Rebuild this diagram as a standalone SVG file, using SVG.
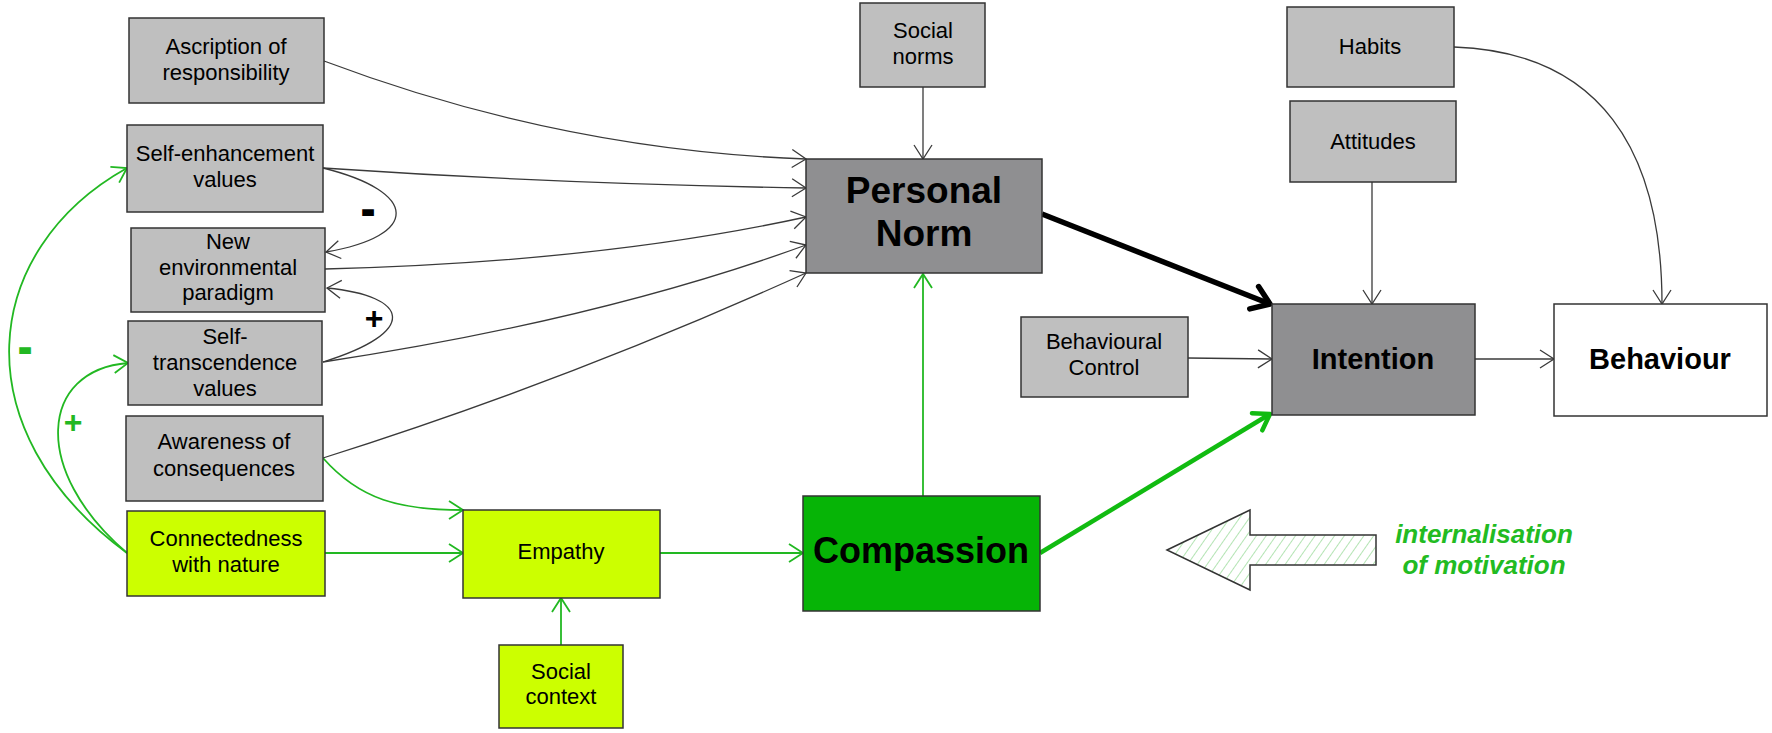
<svg xmlns="http://www.w3.org/2000/svg" width="1772" height="733" viewBox="0 0 1772 733">
<style>
.box{stroke:#333;stroke-width:1.5}
.lg{fill:#bfbfbf}
.dg{fill:#8f8f91}
.lime{fill:#ccff00}
.comp{fill:#06b406}
.wh{fill:#ffffff}
text{font-family:"Liberation Sans",Arial,sans-serif;fill:#000;text-anchor:middle}
.t{font-size:22px}
.b{font-weight:bold}
.ck{fill:none;stroke:#3a3a3a;stroke-width:1.3}
.cg{fill:none;stroke:#22b822;stroke-width:1.8}
.sign{font-weight:bold;font-size:32px}
.dash{font-weight:bold;font-size:38px;stroke-width:2}
.gtext{fill:#22bb22;font-weight:bold;font-style:italic;font-size:26px}
</style>
<defs>
<marker id="ak" markerUnits="userSpaceOnUse" markerWidth="30" markerHeight="30" viewBox="-20 -15 25 30" refX="0" refY="0" orient="auto"><path d="M-14,-9 L0,0 L-14,9" fill="none" stroke="#3a3a3a" stroke-width="1.3"/></marker>
<marker id="ag" markerUnits="userSpaceOnUse" markerWidth="30" markerHeight="30" viewBox="-20 -15 25 30" refX="0" refY="0" orient="auto"><path d="M-14,-9 L0,0 L-14,9" fill="none" stroke="#22b822" stroke-width="1.8"/></marker>
<marker id="akb" markerUnits="userSpaceOnUse" markerWidth="40" markerHeight="40" viewBox="-25 -20 30 40" refX="0" refY="0" orient="auto"><path d="M-17,-12 L0,0 L-17,12" fill="none" stroke="#000" stroke-width="5.5" stroke-linecap="round" stroke-linejoin="round"/></marker>
<marker id="agb" markerUnits="userSpaceOnUse" markerWidth="40" markerHeight="40" viewBox="-25 -20 30 40" refX="0" refY="0" orient="auto"><path d="M-15,-10 L0,0 L-15,10" fill="none" stroke="#11bb11" stroke-width="4.5" stroke-linecap="round" stroke-linejoin="round"/></marker>
<pattern id="hatch" patternUnits="userSpaceOnUse" width="8" height="8" patternTransform="rotate(35)"><rect width="8" height="8" fill="#fff"/><line x1="0" y1="0" x2="0" y2="8" stroke="#9bdc9b" stroke-width="1.5"/></pattern>
</defs>

<g id="connectors">
<path class="ck" d="M324,61 Q560,150 806,159" marker-end="url(#ak)"/>
<path class="ck" d="M323,168 Q560,184 806,188" marker-end="url(#ak)"/>
<path class="ck" d="M323,168 C420,192 420,236 326,252" marker-end="url(#ak)"/>
<path class="ck" d="M325,269 Q600,262 806,217" marker-end="url(#ak)"/>
<path class="ck" d="M323,362 C420,332 410,296 327,288" marker-end="url(#ak)"/>
<path class="ck" d="M323,362 Q600,320 806,245" marker-end="url(#ak)"/>
<path class="ck" d="M323,458 Q570,380 806,273" marker-end="url(#ak)"/>
<path class="ck" d="M923,87 L923,159" marker-end="url(#ak)"/>
<path class="ck" d="M1372,182 L1372,304" marker-end="url(#ak)"/>
<path class="ck" d="M1454,47 C1600,52 1662,150 1662,304" marker-end="url(#ak)"/>
<path class="ck" d="M1188,358 L1272,359" marker-end="url(#ak)"/>
<path class="ck" d="M1475,359 L1554,359" marker-end="url(#ak)"/>
<path d="M1042,214 L1270,304" fill="none" stroke="#000" stroke-width="5.5" marker-end="url(#akb)"/>
<path class="cg" d="M923,496 L923,274" marker-end="url(#ag)"/>
<path d="M1040,553 L1270,414" fill="none" stroke="#11bb11" stroke-width="4.5" marker-end="url(#agb)"/>
<path class="cg" d="M660,553 L803,553" marker-end="url(#ag)"/>
<path class="cg" d="M325,553 L463,553" marker-end="url(#ag)"/>
<path class="cg" d="M323,458 C360,500 400,510 463,510" marker-end="url(#ag)"/>
<path class="cg" d="M561,645 L561,598" marker-end="url(#ag)"/>
<path class="cg" d="M127,553 C-40,430 -20,250 127,168" marker-end="url(#ag)"/>
<path class="cg" d="M127,553 C30,470 40,370 128,363" marker-end="url(#ag)"/>
</g>

<g id="signs">
<text class="dash" x="368" y="223" style="stroke:#000">-</text>
<text class="sign" x="374" y="329">+</text>
<text class="dash" x="25" y="361" style="fill:#22b822;stroke:#22b822">-</text>
<text class="sign" x="73" y="433" style="fill:#22b822">+</text>
</g>

<g id="ascription"><rect class="box lg" x="129" y="18" width="195" height="85"/><text class="t" x="226" y="54">Ascription of</text><text class="t" x="226" y="80">responsibility</text></g>
<g id="self-enhancement"><rect class="box lg" x="127" y="125" width="196" height="87"/><text class="t" x="225" y="161">Self-enhancement</text><text class="t" x="225" y="187">values</text></g>
<g id="nep"><rect class="box lg" x="131" y="228" width="194" height="84"/><text class="t" x="228" y="249">New</text><text class="t" x="228" y="275">environmental</text><text class="t" x="228" y="300">paradigm</text></g>
<g id="self-transcendence"><rect class="box lg" x="128" y="321" width="194" height="84"/><text class="t" x="225" y="344">Self-</text><text class="t" x="225" y="370">transcendence</text><text class="t" x="225" y="396">values</text></g>
<g id="awareness"><rect class="box lg" x="126" y="416" width="197" height="85"/><text class="t" x="224" y="449">Awareness of</text><text class="t" x="224" y="476">consequences</text></g>
<g id="connectedness"><rect class="box lime" x="127" y="511" width="198" height="85"/><text class="t" x="226" y="546">Connectedness</text><text class="t" x="226" y="572">with nature</text></g>
<g id="empathy"><rect class="box lime" x="463" y="510" width="197" height="88"/><text class="t" x="561" y="559">Empathy</text></g>
<g id="social-context"><rect class="box lime" x="499" y="645" width="124" height="83"/><text class="t" x="561" y="679">Social</text><text class="t" x="561" y="704">context</text></g>
<g id="social-norms"><rect class="box lg" x="860" y="3" width="125" height="84"/><text class="t" x="923" y="38">Social</text><text class="t" x="923" y="64">norms</text></g>
<g id="personal-norm"><rect class="box dg" x="806" y="159" width="236" height="114"/><text class="b" style="font-size:37px" x="924" y="203">Personal</text><text class="b" style="font-size:37px" x="924" y="246">Norm</text></g>
<g id="compassion"><rect class="box comp" x="803" y="496" width="237" height="115"/><text class="b" style="font-size:36px" x="921" y="563">Compassion</text></g>
<g id="behavioural-control"><rect class="box lg" x="1021" y="317" width="167" height="80"/><text class="t" x="1104" y="349">Behavioural</text><text class="t" x="1104" y="375">Control</text></g>
<g id="intention"><rect class="box dg" x="1272" y="304" width="203" height="111"/><text class="b" style="font-size:29px" x="1373" y="369">Intention</text></g>
<g id="behaviour"><rect class="box wh" x="1554" y="304" width="213" height="112"/><text class="b" style="font-size:29px" x="1660" y="369">Behaviour</text></g>
<g id="habits"><rect class="box lg" x="1287" y="7" width="167" height="80"/><text class="t" x="1370" y="54">Habits</text></g>
<g id="attitudes"><rect class="box lg" x="1290" y="101" width="166" height="81"/><text class="t" x="1373" y="149">Attitudes</text></g>

<g id="internalisation">
<polygon points="1167,550 1250,510 1250,535 1376,535 1376,565 1250,565 1250,590" fill="url(#hatch)" stroke="#333" stroke-width="1.5"/>
<text class="gtext" x="1484" y="543">internalisation</text>
<text class="gtext" x="1484" y="574">of motivation</text>
</g>
</svg>
